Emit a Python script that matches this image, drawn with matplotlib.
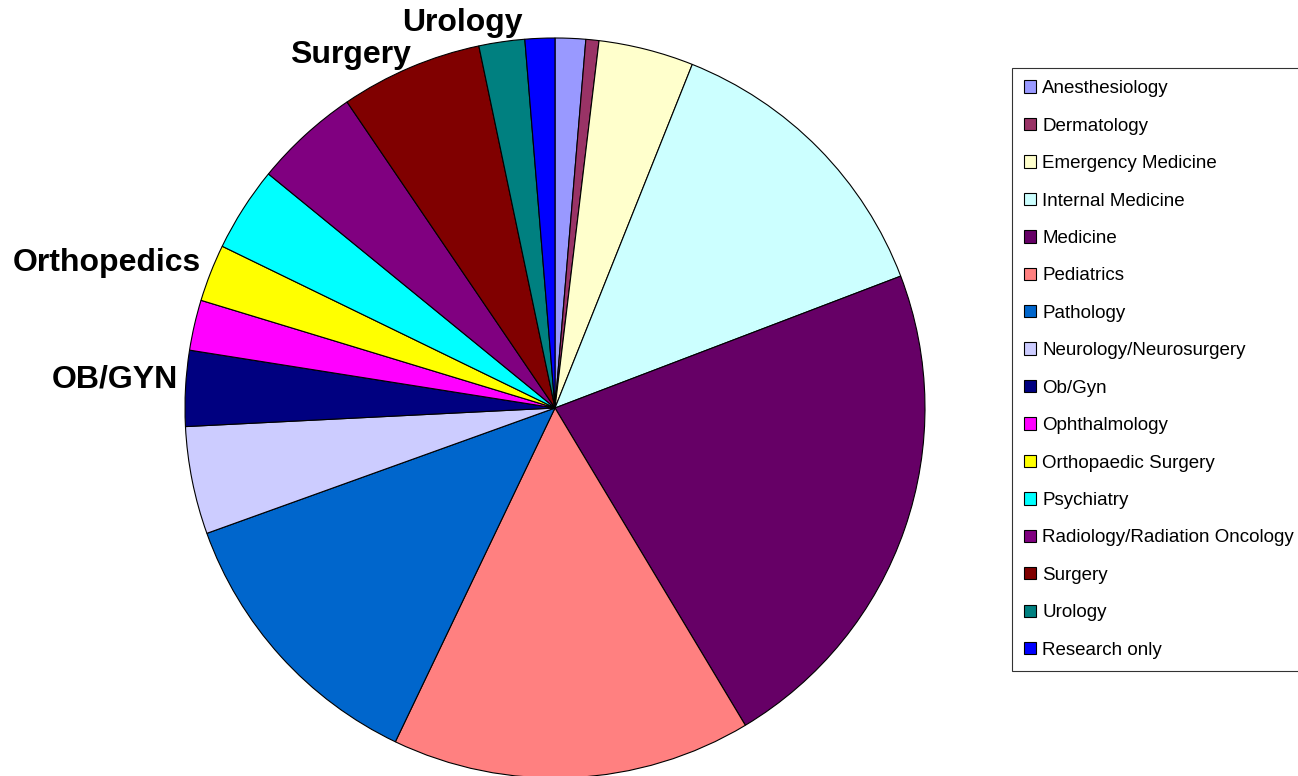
import matplotlib.pyplot as plt

# slice shares (%), clockwise from 12 o'clock
specialties = ["Anesthesiology", "Dermatology", "Emergency Medicine", "Internal Medicine",
               "Medicine", "Pediatrics", "Pathology", "Neurology/Neurosurgery", "Ob/Gyn",
               "Ophthalmology", "Orthopaedic Surgery", "Psychiatry",
               "Radiology/Radiation Oncology", "Surgery", "Urology", "Research only"]
shares = [1.33, 0.57, 4.15, 13.15, 22.2, 15.7, 12.4, 4.7, 3.3, 2.2, 2.5, 3.7, 4.6, 6.2, 2.0, 1.3]
colors = ["#9999FF", "#993366", "#FFFFCC", "#CCFFFF", "#660066", "#FF8080", "#0066CC",
          "#CCCCFF", "#000080", "#FF00FF", "#FFFF00", "#00FFFF", "#800080", "#800000",
          "#008080", "#0000FF"]

# callout labels and where they sit, in pie data units
callouts = ["Urology", "Surgery", "Orthopedics", "OB/GYN"]
callout_xy = [(-0.249, 1.04), (-0.554, 0.954), (-1.21, 0.392), (-1.19, 0.076)]

plt.rcParams["font.family"] = ["Liberation Sans", "DejaVu Sans"]

W, H = 1298, 776
fig = plt.figure(figsize=(W / 100, H / 100), dpi=100)
cx, cy, r = 555, 408, 370
ax = fig.add_axes([(cx - r) / W, (H - cy - r) / H, 2 * r / W, 2 * r / H])

wedges, _ = ax.pie(shares, colors=colors, startangle=90, counterclock=False,
                   wedgeprops=dict(edgecolor="black", linewidth=0.8))
ax.set_xlim(-1, 1)
ax.set_ylim(-1, 1)
ax.axis("off")

for text, (x, y) in zip(callouts, callout_xy):
    ax.text(x, y, text, ha="center", va="center", fontsize=23, fontweight="bold",
            clip_on=False)

leg = fig.legend(wedges, specialties, loc="upper left",
                 bbox_to_anchor=(1012 / W, 1 - 68 / H), fontsize=13.5,
                 frameon=True, fancybox=False, edgecolor="black",
                 handlelength=0.64, handleheight=0.64, handletextpad=0.32,
                 labelspacing=1.09, borderpad=0.65, borderaxespad=0)
leg.get_frame().set_linewidth(0.8)

fig.savefig("out.png", dpi=100)
